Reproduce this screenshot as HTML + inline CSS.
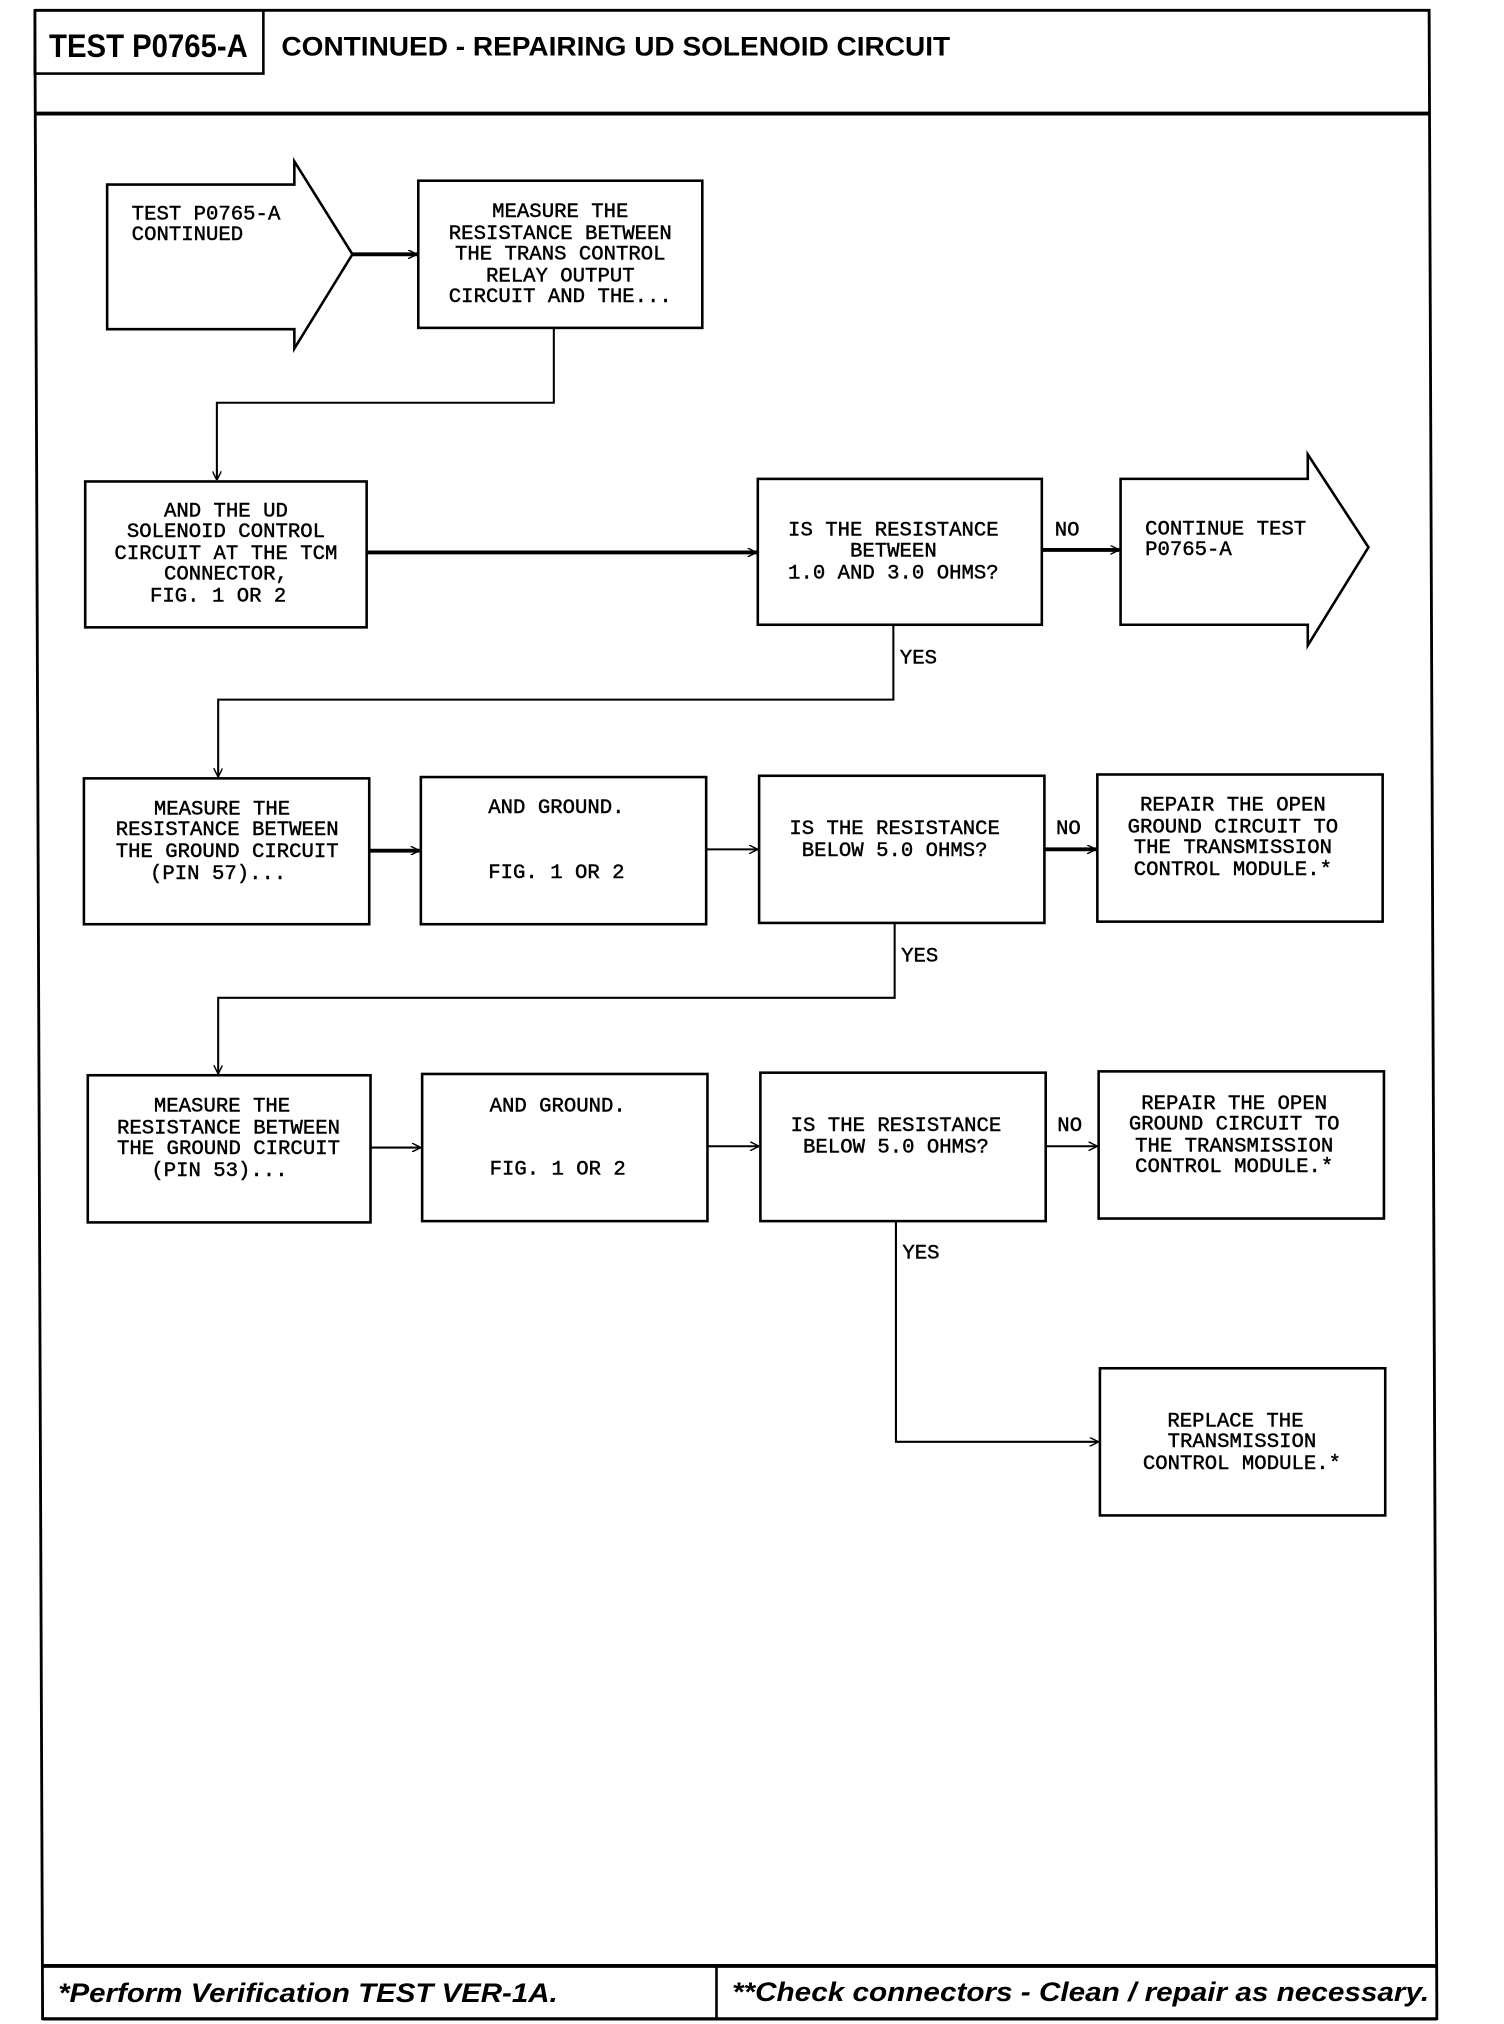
<!DOCTYPE html>
<html><head><meta charset="utf-8"><style>
html,body{margin:0;padding:0;background:#fff;}
svg{display:block;}
.t{font-family:"Liberation Mono",monospace;font-size:16px;fill:#000;stroke:#000;stroke-width:0.35;}
.b{fill:#fff;stroke:#000;stroke-width:2;}
.l{fill:none;stroke:#000;stroke-width:1.6;}
.k{fill:none;stroke:#000;stroke-width:3;}
</style></head><body>
<svg width="1504" height="2024" viewBox="0 0 1165 1568" preserveAspectRatio="none" xmlns="http://www.w3.org/2000/svg">
<defs>
<marker id="a" viewBox="0 0 10 10" refX="10" refY="5" markerWidth="7" markerHeight="7" markerUnits="userSpaceOnUse" orient="auto"><path d="M0,0 L10,5 L0,10" fill="none" stroke="#000" stroke-width="1.6"/></marker>
</defs>
<!-- frame -->
<path d="M27,8 L1107,8 L1113,1565 M27,8 L33,1565" fill="none" stroke="#000" stroke-width="2.2"/>
<line x1="27" y1="88" x2="1107" y2="88" stroke="#000" stroke-width="3"/>
<rect x="27" y="8" width="177" height="49" fill="none" stroke="#000" stroke-width="2"/>
<text x="38" y="44" font-family="Liberation Sans,sans-serif" font-weight="bold" font-size="25" textLength="154" lengthAdjust="spacingAndGlyphs">TEST P0765-A</text>
<text x="218" y="43" font-family="Liberation Sans,sans-serif" font-weight="bold" font-size="21" textLength="518" lengthAdjust="spacingAndGlyphs">CONTINUED - REPAIRING UD SOLENOID CIRCUIT</text>
<!-- footer -->
<line x1="32" y1="1523" x2="1112" y2="1523" stroke="#000" stroke-width="3"/>
<line x1="33" y1="1564" x2="1113" y2="1564" stroke="#000" stroke-width="2.5"/>
<line x1="555" y1="1523" x2="555" y2="1564" stroke="#000" stroke-width="2"/>
<text x="45" y="1551" font-family="Liberation Sans,sans-serif" font-weight="bold" font-style="italic" font-size="21" textLength="387" lengthAdjust="spacingAndGlyphs">*Perform Verification TEST VER-1A.</text>
<text x="567" y="1550" font-family="Liberation Sans,sans-serif" font-weight="bold" font-style="italic" font-size="21" textLength="540" lengthAdjust="spacingAndGlyphs">**Check connectors - Clean / repair as necessary.</text>

<!-- row 1 -->
<path class="b" d="M83,143 L228,143 L228,125 L273,197 L228,270 L228,255 L83,255 Z"/>
<text class="t" x="102" y="170">TEST P0765-A</text>
<text class="t" x="102" y="186">CONTINUED</text>
<line class="k" x1="273" y1="197" x2="323" y2="197" marker-end="url(#a)"/>
<rect class="b" x="324" y="140" width="220" height="114"/>
<g class="t" text-anchor="middle">
<text x="434" y="168">MEASURE THE</text>
<text x="434" y="185">RESISTANCE BETWEEN</text>
<text x="434" y="201">THE TRANS CONTROL</text>
<text x="434" y="218">RELAY OUTPUT</text>
<text x="434" y="234">CIRCUIT AND THE...</text>
</g>
<path class="l" d="M429,254 L429,312 L168,312 L168,372" marker-end="url(#a)"/>

<!-- row 2 -->
<rect class="b" x="66" y="373" width="218" height="113"/>
<g class="t" text-anchor="middle">
<text x="175" y="400">AND THE UD</text>
<text x="175" y="416">SOLENOID CONTROL</text>
<text x="175" y="433">CIRCUIT AT THE TCM</text>
<text x="175" y="449">CONNECTOR,</text>
<text x="169" y="466">FIG. 1 OR 2</text>
</g>
<line class="k" x1="284" y1="428" x2="586" y2="428" marker-end="url(#a)"/>
<rect class="b" x="587" y="371" width="220" height="113"/>
<g class="t" text-anchor="middle">
<text x="692" y="415">IS THE RESISTANCE</text>
<text x="692" y="431">BETWEEN</text>
<text x="692" y="448">1.0 AND 3.0 OHMS?</text>
</g>
<text class="t" x="817" y="415">NO</text>
<line class="k" x1="807" y1="426" x2="867" y2="426" marker-end="url(#a)"/>
<path class="b" d="M868,371 L1013,371 L1013,352 L1060,424 L1013,500 L1013,484 L868,484 Z"/>
<text class="t" x="887" y="414">CONTINUE TEST</text>
<text class="t" x="887" y="430">P0765-A</text>
<text class="t" x="697" y="514">YES</text>
<path class="l" d="M692,484 L692,542 L169,542 L169,602" marker-end="url(#a)"/>

<!-- row 3 -->
<rect class="b" x="65" y="603" width="221" height="113"/>
<g class="t" text-anchor="middle">
<text x="172" y="631">MEASURE THE</text>
<text x="176" y="647">RESISTANCE BETWEEN</text>
<text x="176" y="664">THE GROUND CIRCUIT</text>
<text x="169" y="681">(PIN 57)...</text>
</g>
<line class="k" x1="286" y1="659" x2="325" y2="659" marker-end="url(#a)"/>
<rect class="b" x="326" y="602" width="221" height="114"/>
<g class="t" text-anchor="middle">
<text x="431" y="630">AND GROUND.</text>
<text x="431" y="680">FIG. 1 OR 2</text>
</g>
<line class="l" x1="547" y1="658" x2="587" y2="658" marker-end="url(#a)"/>
<rect class="b" x="588" y="601" width="221" height="114"/>
<g class="t" text-anchor="middle">
<text x="693" y="646">IS THE RESISTANCE</text>
<text x="693" y="663">BELOW 5.0 OHMS?</text>
</g>
<text class="t" x="818" y="646">NO</text>
<line class="k" x1="809" y1="658" x2="849" y2="658" marker-end="url(#a)"/>
<rect class="b" x="850" y="600" width="221" height="114"/>
<g class="t" text-anchor="middle">
<text x="955" y="628">REPAIR THE OPEN</text>
<text x="955" y="645">GROUND CIRCUIT TO</text>
<text x="955" y="661">THE TRANSMISSION</text>
<text x="955" y="678">CONTROL MODULE.*</text>
</g>
<text class="t" x="698" y="745">YES</text>
<path class="l" d="M693,715 L693,773 L169,773 L169,832" marker-end="url(#a)"/>

<!-- row 4 -->
<rect class="b" x="68" y="833" width="219" height="114"/>
<g class="t" text-anchor="middle">
<text x="172" y="861">MEASURE THE</text>
<text x="177" y="878">RESISTANCE BETWEEN</text>
<text x="177" y="894">THE GROUND CIRCUIT</text>
<text x="170" y="911">(PIN 53)...</text>
</g>
<line class="l" x1="287" y1="889" x2="326" y2="889" marker-end="url(#a)"/>
<rect class="b" x="327" y="832" width="221" height="114"/>
<g class="t" text-anchor="middle">
<text x="432" y="861">AND GROUND.</text>
<text x="432" y="910">FIG. 1 OR 2</text>
</g>
<line class="l" x1="548" y1="888" x2="588" y2="888" marker-end="url(#a)"/>
<rect class="b" x="589" y="831" width="221" height="115"/>
<g class="t" text-anchor="middle">
<text x="694" y="876">IS THE RESISTANCE</text>
<text x="694" y="893">BELOW 5.0 OHMS?</text>
</g>
<text class="t" x="819" y="876">NO</text>
<line class="l" x1="810" y1="888" x2="850" y2="888" marker-end="url(#a)"/>
<rect class="b" x="851" y="830" width="221" height="114"/>
<g class="t" text-anchor="middle">
<text x="956" y="859">REPAIR THE OPEN</text>
<text x="956" y="875">GROUND CIRCUIT TO</text>
<text x="956" y="892">THE TRANSMISSION</text>
<text x="956" y="908">CONTROL MODULE.*</text>
</g>
<text class="t" x="699" y="975">YES</text>
<path class="l" d="M694,946 L694,1117 L851,1117" marker-end="url(#a)"/>
<rect class="b" x="852" y="1060" width="221" height="114"/>
<g class="t" text-anchor="middle">
<text x="957" y="1105">REPLACE THE</text>
<text x="962" y="1121">TRANSMISSION</text>
<text x="962" y="1138">CONTROL MODULE.*</text>
</g>
</svg>
</body></html>
